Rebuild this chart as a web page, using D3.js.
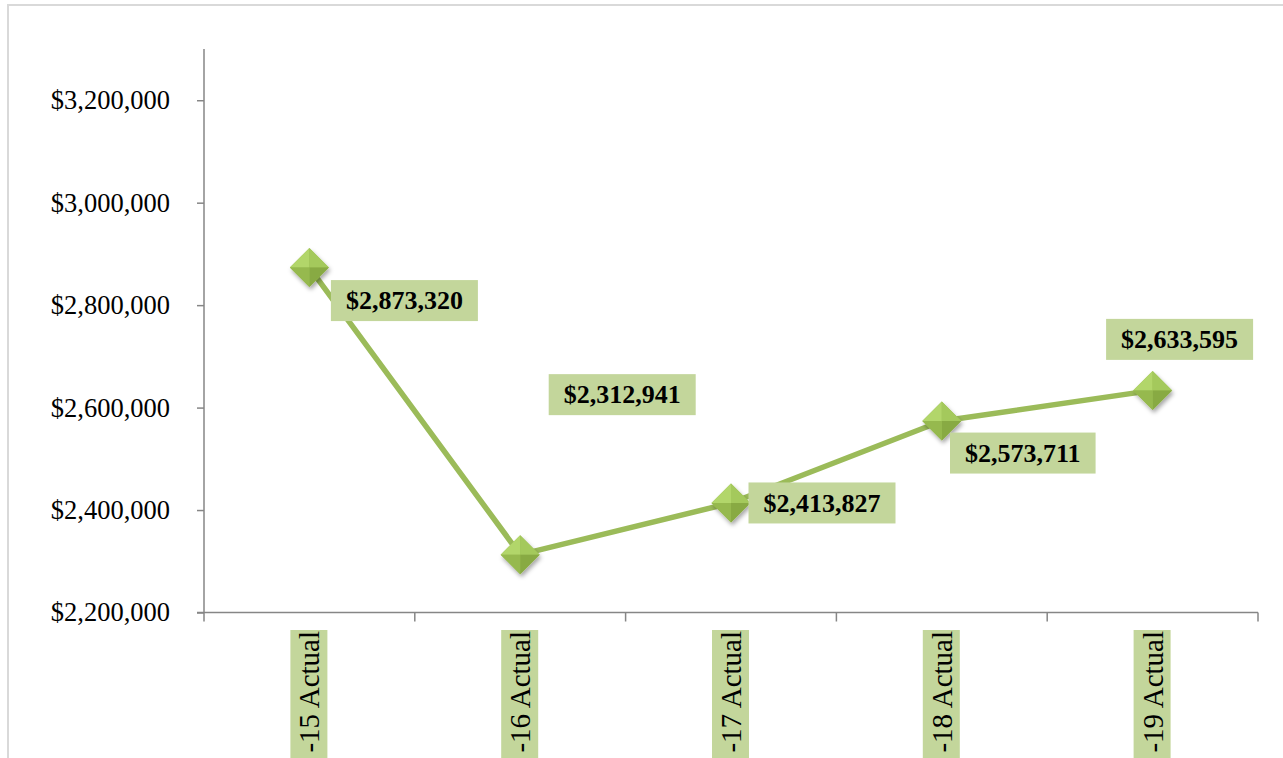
<!DOCTYPE html>
<html>
<head>
<meta charset="utf-8">
<script src="https://cdn.jsdelivr.net/npm/d3@7"></script>
<style>
  html, body { margin: 0; padding: 0; background: #fff; overflow: hidden; }
  svg { display: block; }
  text { font-family: "Liberation Serif", "DejaVu Serif", serif; }
</style>
</head>
<body>
<svg id="chart" width="1283" height="758"></svg>
<script>
// Fiscal-year actuals (category labels as printed on the axis)
const categories = ["-15 Actual", "-16 Actual", "-17 Actual", "-18 Actual", "-19 Actual"];
const values = [2873320, 2312941, 2413827, 2573711, 2633595];
const yTicks = [2200000, 2400000, 2600000, 2800000, 3000000, 3200000];

// Where each value label sits relative to its point (pixels)
const labelOffsets = [[95, 33], [102, -160], [91, 0], [81, 32], [27, -51]];

const W = 1283, H = 758;
const svg = d3.select("#chart");

const lineColor = "#9bbb59";
const labelFill = "#c3d69b";
const axisColor = "#868686";

// chart frame
svg.append("rect")
  .attr("x", 8).attr("y", 5)
  .attr("width", W + 20).attr("height", H + 20)
  .attr("fill", "none").attr("stroke", "#d9d9d9").attr("stroke-width", 2);

const plot = { left: 204, right: 1258, top: 49, bottom: 612.5 };

const x = d3.scaleBand().domain(categories).range([plot.left, plot.right]).padding(0);
const y = d3.scaleLinear().domain([2200000, 3300000]).range([plot.bottom, plot.top]);
const cx = c => x(c) + x.bandwidth() / 2;

const defs = svg.append("defs");
const shadow = defs.append("filter").attr("id", "mshadow")
  .attr("x", "-50%").attr("y", "-50%").attr("width", "200%").attr("height", "200%");
shadow.append("feDropShadow")
  .attr("dx", 1.5).attr("dy", 3).attr("stdDeviation", 2)
  .attr("flood-color", "#000").attr("flood-opacity", 0.35);

// y axis
const yAxis = d3.axisLeft(y)
  .tickValues(yTicks)
  .tickSize(7)
  .tickPadding(27)
  .tickFormat(d3.format("$,"));

const gy = svg.append("g").attr("transform", `translate(${plot.left},0)`).call(yAxis);
gy.select(".domain").remove();
gy.selectAll(".tick line").attr("stroke", axisColor).attr("stroke-width", 1.5);
gy.selectAll(".tick text")
  .attr("fill", "#000")
  .style("font-size", "26.5px")
  .style("font-family", "'Liberation Serif', serif");
gy.append("line")
  .attr("x1", 0).attr("x2", 0)
  .attr("y1", plot.top).attr("y2", plot.bottom)
  .attr("stroke", axisColor).attr("stroke-width", 1.5);

// x axis line and band-edge ticks
const gx = svg.append("g");
gx.append("line")
  .attr("x1", plot.left - 7).attr("x2", plot.right)
  .attr("y1", plot.bottom).attr("y2", plot.bottom)
  .attr("stroke", axisColor).attr("stroke-width", 1.5);
const edges = categories.map(c => x(c)).concat([x(categories[categories.length - 1]) + x.bandwidth()]);
gx.selectAll("line.edge").data(edges).join("line")
  .attr("class", "edge")
  .attr("x1", d => d).attr("x2", d => d)
  .attr("y1", plot.bottom).attr("y2", plot.bottom + 9)
  .attr("stroke", axisColor).attr("stroke-width", 1.5);

// category labels, rotated, on a green band
const catTop = 630;
const cat = svg.append("g").selectAll("g").data(categories).join("g")
  .attr("transform", d => `translate(${cx(d)},${catTop})`);
cat.append("rect")
  .attr("x", -19).attr("y", 0)
  .attr("width", 37).attr("height", H - catTop + 10)
  .attr("fill", labelFill);
cat.append("text")
  .attr("transform", "rotate(-90)")
  .attr("x", -1).attr("y", 10)
  .attr("text-anchor", "end")
  .attr("fill", "#000")
  .style("font-size", "29px")
  .text(d => d);

// series line
const line = d3.line().x((d, i) => cx(categories[i])).y(d => y(d));
svg.append("path")
  .datum(values)
  .attr("d", line)
  .attr("fill", "none")
  .attr("stroke", lineColor)
  .attr("stroke-width", 5.5)
  .attr("stroke-linejoin", "round");

// bevelled diamond markers
const r = 19.5;
const facets = [
  { pts: [[0, 0], [-r, 0], [0, -r]], fill: "#b2d66a" },
  { pts: [[0, 0], [0, -r], [r, 0]], fill: "#a4c95c" },
  { pts: [[0, 0], [r, 0], [0, r]], fill: "#88aa43" },
  { pts: [[0, 0], [0, r], [-r, 0]], fill: "#96b94e" }
];
const markers = svg.append("g").selectAll("g").data(values).join("g")
  .attr("transform", (d, i) => `translate(${cx(categories[i])},${y(d)})`);
markers.append("path")
  .attr("d", `M0,${-r}L${r},0L0,${r}L${-r},0Z`)
  .attr("fill", "#98bb52")
  .attr("filter", "url(#mshadow)");
markers.selectAll("path.facet").data(facets).join("path")
  .attr("class", "facet")
  .attr("d", f => "M" + f.pts.map(p => p.join(",")).join("L") + "Z")
  .attr("fill", f => f.fill);

// value labels
const fmt = d3.format("$,");
const labels = svg.append("g").selectAll("g").data(values).join("g")
  .attr("transform", (d, i) => `translate(${cx(categories[i]) + labelOffsets[i][0]},${y(d) + labelOffsets[i][1]})`);
labels.each(function (d) {
  const g = d3.select(this);
  const t = g.append("text")
    .attr("text-anchor", "middle")
    .attr("dy", "0.34em")
    .attr("fill", "#000")
    .style("font-size", "26px")
    .style("font-weight", "bold")
    .text(fmt(d));
  const bb = t.node().getBBox();
  g.insert("rect", "text")
    .attr("x", -bb.width / 2 - 15).attr("y", -20.5)
    .attr("width", bb.width + 30).attr("height", 41)
    .attr("fill", labelFill);
});
</script>
</body>
</html>
